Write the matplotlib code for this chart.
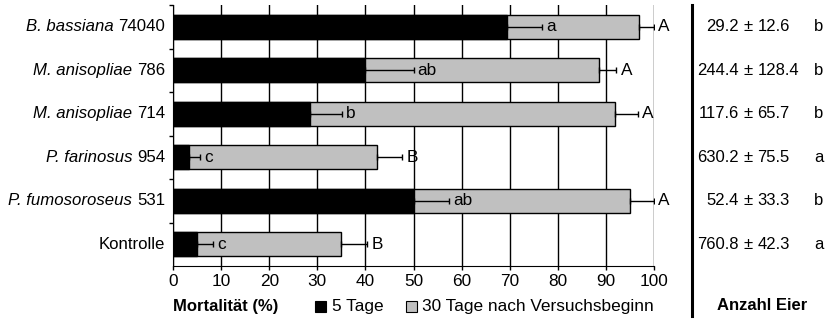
import numpy as np
import matplotlib.pyplot as plt
from matplotlib.patches import Rectangle

plt.rcParams['font.family'] = ['Liberation Sans', 'DejaVu Sans']

genus = ["B. bassiana", "M. anisopliae", "M. anisopliae", "P. farinosus",
         "P. fumosoroseus", ""]
strain = ["74040", "786", "714", "954", "531", "Kontrolle"]
day5 = [69.5, 40.0, 28.5, 3.4, 50.0, 5.0]
day5_err = [7.2, 10.0, 6.6, 2.2, 7.3, 3.3]
day5_sig = ["a", "ab", "b", "c", "ab", "c"]
day30 = [96.8, 88.5, 91.8, 42.5, 95.0, 35.0]
day30_err = [3.2, 3.7, 4.8, 5.2, 5.0, 5.4]
day30_sig = ["A", "A", "A", "B", "A", "B"]
egg_mean = ["29.2", "244.4", "117.6", "630.2", "52.4", "760.8"]
egg_sd = ["12.6", "128.4", "65.7", "75.5", "33.3", "42.3"]
egg_sig = ["b", "b", "b", "a", "b", "a"]

W, H = 833, 324
fig = plt.figure(figsize=(W / 100, H / 100), dpi=100)
ax = fig.add_axes([173 / W, 1 - 266 / H, 481 / W, 261 / H])

y = np.arange(len(strain))
bh = 0.55
fs = 12.4
grey = '#c0c0c0'

ax.barh(y, day30, height=bh, color=grey, edgecolor='black', linewidth=1, zorder=3)
ax.barh(y, day5, height=bh, color='black', edgecolor='black', linewidth=1, zorder=4)
ax.errorbar(day30, y, xerr=[np.zeros(6), day30_err], fmt='none', ecolor='black',
            elinewidth=1, capsize=2, capthick=1, zorder=5)
ax.errorbar(day5, y, xerr=[np.zeros(6), day5_err], fmt='none', ecolor='black',
            elinewidth=1, capsize=2, capthick=1, zorder=5)

for i in range(len(y)):
    ax.annotate(day5_sig[i], (day5[i] + day5_err[i], y[i]), xytext=(3, 0),
                textcoords='offset points', va='center', ha='left', fontsize=fs, zorder=6)
    ax.annotate(day30_sig[i], (day30[i] + day30_err[i], y[i]), xytext=(3, 0),
                textcoords='offset points', va='center', ha='left', fontsize=fs, zorder=6)

ax.set_xlim(0, 100)
ax.set_ylim(5.5, -0.5)
ax.set_xticks(np.arange(0, 101, 10))
ax.set_yticks(y)
ax.set_yticklabels([])
ax.set_yticks(np.arange(-0.5, 5.5, 1), minor=True)
ax.tick_params(axis='y', which='major', length=0)
ax.tick_params(axis='y', which='minor', length=3, width=1, direction='out')
ax.tick_params(axis='x', length=3, width=1, direction='out', labelsize=fs, pad=3)
ax.grid(axis='x', color='black', linewidth=1, zorder=0)
for s in ['top', 'right']:
    ax.spines[s].set_visible(False)

# category labels: italic genus + upright strain number
lfs = 12.1
fig.canvas.draw()
rend = fig.canvas.get_renderer()
space = 0.278 * lfs * 100 / 72
for i in range(len(y)):
    yy = ax.transData.transform((0, y[i]))[1] / H
    t = fig.text(165 / W, yy, strain[i], fontsize=lfs, ha='right', va='center')
    if genus[i]:
        left = t.get_window_extent(rend).x0
        fig.text((left - space) / W, yy, genus[i], fontsize=lfs, style='italic',
                 ha='right', va='center')

# bottom legend row
fig.text(173 / W, 1 - 306 / H, "Mortalität (%)", fontsize=12, fontweight='bold',
         ha='left', va='center')
fig.patches.append(Rectangle((315 / W, 1 - 312 / H), 11 / W, 11 / H, facecolor='black',
                             edgecolor='black', linewidth=0.8, transform=fig.transFigure))
fig.text(332 / W, 1 - 306 / H, "5 Tage", fontsize=fs, ha='left', va='center')
fig.patches.append(Rectangle((406 / W, 1 - 312 / H), 11 / W, 11 / H, facecolor=grey,
                             edgecolor='black', linewidth=0.8, transform=fig.transFigure))
fig.text(422 / W, 1 - 306 / H, "30 Tage nach Versuchsbeginn", fontsize=fs,
         ha='left', va='center')

# egg count column
efs = 12
fig.add_artist(plt.Line2D([692 / W, 692 / W], [1 - 5 / H, 1 - 316 / H], color='black',
                          linewidth=2.2, transform=fig.transFigure))
for i in range(len(y)):
    yy = ax.transData.transform((0, y[i]))[1] / H
    fig.text(738.5 / W, yy, egg_mean[i], fontsize=efs, ha='right', va='center')
    fig.text(748 / W, yy, "±", fontsize=efs, ha='center', va='center')
    fig.text(757.5 / W, yy, egg_sd[i], fontsize=efs, ha='left', va='center')
    fig.text(819 / W, yy, egg_sig[i], fontsize=efs, ha='center', va='center')
fig.text(762 / W, 1 - 306 / H, "Anzahl Eier", fontsize=12, fontweight='bold',
         ha='center', va='center')

fig.savefig("out.png", dpi=100)
